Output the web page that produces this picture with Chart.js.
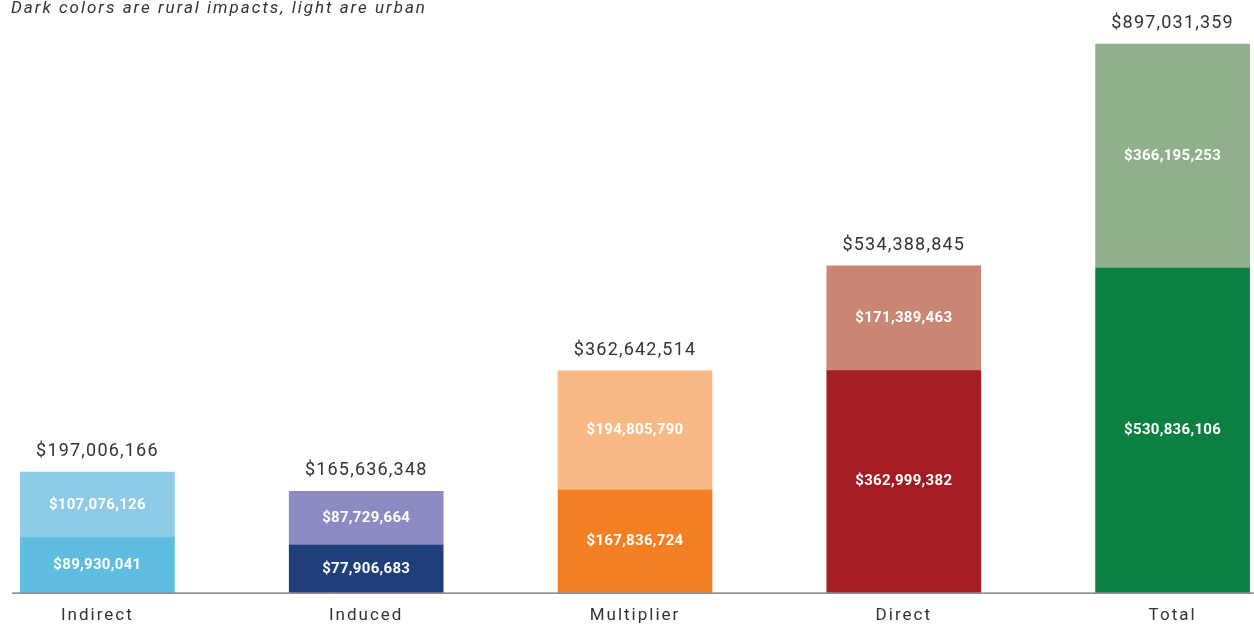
<!DOCTYPE html>
<html>
<head>
<meta charset="utf-8">
<script src="https://cdn.jsdelivr.net/npm/chart.js@4/dist/chart.umd.min.js"></script>
<style>
  html, body { margin: 0; padding: 0; background: #fff; overflow: hidden; }
  #wrap { position: absolute; left: -37px; top: 0; width: 1344px; height: 639px; }
  #note { position: absolute; left: 11px; top: -3px; font: italic 17px Roboto, sans-serif;
          letter-spacing: 2px; color: #333; z-index: 2; }
</style>
</head>
<body>
<div id="note">Dark colors are rural impacts, light are urban</div>
<div id="wrap"><canvas id="chart"></canvas></div>
<script>
var categories = ['Indirect', 'Induced', 'Multiplier', 'Direct', 'Total'];
var rural = [89930041, 77906683, 167836724, 362999382, 530836106];
var urban = [107076126, 87729664, 194805790, 171389463, 366195253];
var totals = [197006166, 165636348, 362642514, 534388845, 897031359];
var darkColors = ['#5ebde1', '#1f3f7b', '#f58023', '#a41d23', '#0c8041'];
var lightColors = ['#8ccae6', '#8b8ac3', '#f9b984', '#cb8573', '#8fb08a'];

function money(v) {
  return '$' + v.toLocaleString('en-US');
}

var spacingPlugin = {
  id: 'spacing',
  beforeDraw: function (chart) {
    chart.ctx.letterSpacing = '2px';
  }
};

var labelPlugin = {
  id: 'labels',
  afterDatasetsDraw: function (chart) {
    var ctx = chart.ctx;
    ctx.save();
    ctx.textAlign = 'center';
    ctx.textBaseline = 'middle';

    // values inside segments
    ctx.fillStyle = '#fff';
    ctx.font = 'bold 15px Roboto, sans-serif';
    ctx.letterSpacing = '0.3px';
    chart.data.datasets.forEach(function (ds, di) {
      chart.getDatasetMeta(di).data.forEach(function (bar, i) {
        var mid = (bar.y + bar.base) / 2;
        ctx.fillText(money(ds.data[i]), bar.x, mid);
      });
    });

    // totals above bars
    ctx.fillStyle = '#333';
    ctx.font = '18px Roboto, sans-serif';
    ctx.letterSpacing = '1.2px';
    ctx.textBaseline = 'alphabetic';
    var top = chart.getDatasetMeta(1).data;
    top.forEach(function (bar, i) {
      ctx.fillText(money(totals[i]), bar.x, bar.y - 16);
    });

    // axis line
    var a = chart.chartArea;
    ctx.strokeStyle = '#444';
    ctx.lineWidth = 1;
    ctx.beginPath();
    ctx.moveTo(a.left + 49, a.bottom + 0.5);
    ctx.lineTo(a.right, a.bottom + 0.5);
    ctx.stroke();
    ctx.restore();
    ctx.letterSpacing = '2px';
  }
};

new Chart(document.getElementById('chart'), {
  type: 'bar',
  data: {
    labels: categories,
    datasets: [
      { label: 'Rural', data: rural, backgroundColor: darkColors },
      { label: 'Urban', data: urban, backgroundColor: lightColors }
    ]
  },
  options: {
    responsive: true,
    maintainAspectRatio: false,
    animation: false,
    layout: { padding: 0 },
    datasets: { bar: { barThickness: 154, borderWidth: 0 } },
    plugins: {
      legend: { display: false },
      tooltip: { enabled: false }
    },
    scales: {
      x: {
        stacked: true,
        grid: { display: false, drawTicks: false },
        border: { display: false },
        ticks: {
          color: '#333',
          padding: 13,
          font: { family: 'Roboto, sans-serif', size: 17 }
        }
      },
      y: {
        stacked: true,
        display: false,
        min: 0,
        max: 969000000
      }
    }
  },
  plugins: [spacingPlugin, labelPlugin]
});
</script>
</body>
</html>
